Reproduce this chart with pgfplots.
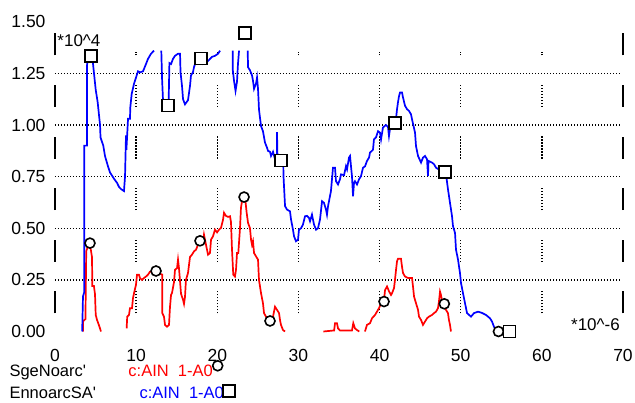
\documentclass[border=0pt]{standalone}
\usepackage{fontspec}
\setmainfont{Liberation Sans}
\usepackage{pgfplots}
\pgfplotsset{compat=1.18}
\begin{document}
\begin{tikzpicture}
\useasboundingbox (-55pt,-71.5pt) rectangle (580pt,331.5pt);
\begin{axis}[
  at={(0,0)}, anchor=south west,
  scale only axis, width=568pt, height=309.75pt,
  xmin=0, xmax=70, ymin=0, ymax=1.5,
  axis line style={draw=none},
  xtick={0,10,20,30,40,50,60,70},
  xticklabels={0,10,20,30,40,50,60,70},
  ytick={0,0.25,0.5,0.75,1,1.25,1.5},
  yticklabels={0.00,0.25,0.50,0.75,1.00,1.25,1.50},
  major tick length=0pt,
  tick label style={font=\fontsize{17.5}{20}\selectfont, text=black},
  yticklabel style={xshift=-6pt},
  xticklabel style={yshift=-14pt},
  clip=false,
  unbounded coords=jump,
]
% horizontal dotted grid
\pgfplotsinvokeforeach{0.25,0.5,0.75,1,1.25}{
  \draw[line width=1.3pt, dash pattern=on 1.3pt off 1.7pt] (axis cs:0,#1) -- (axis cs:69.6,#1);
}
% vertical segmented dotted grid
\pgfplotsinvokeforeach{10,20,30,40,50,60}{
  \draw[line width=1.3pt, dash pattern=on 1.3pt off 1.7pt on 1.3pt off 1.7pt on 1.3pt off 1.7pt on 1.3pt off 1.7pt on 1.3pt off 1.7pt on 1.3pt off 1.7pt on 1.3pt off 1.7pt on 1.3pt off 29.325pt, dash phase=33.625pt] (axis cs:#1,0) -- (axis cs:#1,1.355);
}
% left and right segmented axis lines
\draw[line width=2pt, dash pattern=on 22pt off 29.625pt, dash phase=33.625pt] (axis cs:0,0) -- (axis cs:0,1.5);
\draw[line width=2pt, dash pattern=on 22pt off 29.625pt, dash phase=33.625pt] (axis cs:70,0) -- (axis cs:70,1.5);

% red series
\addplot[red, line width=1.7pt, forget plot] coordinates {
(3.45,0)(3.47,0.05)(3.75,0.06)(3.85,0.39)(4.0,0.405)(4.3,0.42)(4.44,0.39)(4.56,0.36)(4.6,0.22)(4.8,0.22)(4.93,0.18)(5.02,0.08)(5.18,0.056)(5.42,0.03)(5.67,0)(5.67,nan)
(8.83,0.015)(8.9,0.072)(9.12,0.08)(9.24,0.113)(9.49,0.113)(9.61,0.161)(9.74,0.186)(9.98,0.226)(10.11,0.275)(10.35,0.275)(10.47,0.259)(10.72,0.25)(10.97,0.259)(11.21,0.266)(11.46,0.275)(11.71,0.29)(12.45,0.29)(13.22,0.275)(13.22,0.089)(13.43,0.072)(13.56,0.032)(13.8,0.023)(14.05,0.032)(14.17,0.118)(14.3,0.177)(14.42,0.186)(14.67,0.24)(14.79,0.299)(15.04,0.307)(15.16,0.348)(15.28,0.307)(15.53,0.183)(15.78,0.153)(15.9,0.134)(16.02,0.167)(16.14,0.25)(16.39,0.283)(16.64,0.361)(16.88,0.372)(17.13,0.388)(17.38,0.396)(17.62,0.42)(17.87,0.43)(18.24,0.434)(18.36,0.469)(18.61,0.42)(18.86,0.372)(19.1,0.38)(19.23,0.445)(19.47,0.461)(19.72,0.493)(19.97,0.48)(20.21,0.493)(20.46,0.502)(20.71,0.542)(20.83,0.575)(21.07,0.56)(21.32,0.555)(21.57,0.558)(21.69,0.53)(21.81,0.40)(21.97,0.275)(22.18,0.266)(22.31,0.30)(22.43,0.38)(22.59,0.38)(22.8,0.50)(22.92,0.60)(23.17,0.66)(23.4,0.66)(23.62,0.575)(23.79,0.526)(24.03,0.50)(24.16,0.445)(24.28,0.42)(24.4,0.437)(24.53,0.38)(24.77,0.364)(25.02,0.348)(25.14,0.25)(25.39,0.186)(25.63,0.137)(25.76,0.089)(26.0,0.072)(26.5,0.05)(26.87,0.072)(27.11,0.12)(27.36,0.105)(27.61,0.089)(27.73,0.056)(27.85,0.032)(28.1,0.007)(28.35,0)(28.35,nan)
(33.07,0)(34.4,0.005)(34.51,0.04)(34.75,0.04)(34.88,0.015)(35.12,0.005)(36.6,0.005)(36.76,0.04)(36.97,0.015)(37.22,0.007)(37.5,0)(37.5,nan)
(38.2,0)(38.45,0.032)(38.82,0.04)(39.07,0.064)(39.44,0.08)(39.68,0.096)(39.93,0.113)(40.11,0.13)(40.55,0.15)(40.67,0.20)(40.92,0.218)(41.16,0.195)(41.41,0.177)(41.53,0.185)(41.78,0.21)(41.9,0.25)(42.03,0.299)(42.15,0.34)(42.27,0.352)(42.64,0.352)(42.77,0.313)(42.89,0.283)(43.14,0.266)(43.5,0.259)(44.0,0.259)(44.12,0.218)(44.25,0.169)(44.49,0.137)(44.74,0.105)(44.86,0.072)(45.11,0.056)(45.35,0.032)(45.6,0.048)(45.85,0.064)(46.09,0.072)(46.46,0.08)(46.71,0.089)(46.96,0.096)(47.2,0.113)(47.32,0.145)(47.45,0.193)(47.57,0.177)(47.69,0.15)(47.94,0.13)(48.18,0.105)(48.43,0.089)(48.55,0.056)(48.68,0.032)(48.8,0)
};

% blue series
\addplot[blue, line width=1.7pt, forget plot] coordinates {
(3.35,0)(3.45,0.17)(3.6,0.19)(3.6,0.90)(3.95,0.90)(3.95,1.29)(4.1,1.34)(4.6,1.34)(4.7,1.29)(5.02,1.17)(5.26,1.11)(5.55,1.0)(5.61,0.94)(5.95,0.90)(6.16,0.85)(6.53,0.80)(6.78,0.77)(7.27,0.74)(7.64,0.72)(7.89,0.70)(8.13,0.69)(8.5,0.68)(8.63,0.75)(8.75,0.95)(8.8,0.88)(9.0,1.03)(9.24,1.03)(9.28,1.085)(9.45,1.15)(9.74,1.20)(10.23,1.26)(10.48,1.255)(10.85,1.26)(11.21,1.295)(11.46,1.32)(11.83,1.345)(12.2,1.36)(12.2,nan)
(13.1,1.36)(13.2,1.22)(13.3,1.13)(13.6,1.09)(14.0,1.10)(14.1,1.30)(14.3,1.295)(14.54,1.32)(14.79,1.335)(15.16,1.345)(15.41,1.345)(15.47,1.255)(15.65,1.19)(15.78,1.125)(16.02,1.10)(16.39,1.12)(16.64,1.19)(16.76,1.24)(17.0,1.255)(17.13,1.28)(17.38,1.31)(17.62,1.33)(17.9,1.31)(18.24,1.295)(18.61,1.30)(18.86,1.31)(19.35,1.33)(19.72,1.335)(20.09,1.345)(20.34,1.36)(20.34,nan)
(21.9,1.36)(21.9,1.27)(22.06,1.215)(22.25,1.165)(22.43,1.21)(22.55,1.295)(22.68,1.36)(22.68,nan)
(23.75,1.36)(23.79,1.28)(24.03,1.265)(24.28,1.24)(24.4,1.215)(24.53,1.175)(24.77,1.20)(24.9,1.23)(25.02,1.175)(25.14,1.075)(25.39,0.995)(25.63,0.97)(25.88,0.915)(26.13,0.89)(26.25,0.875)(26.5,0.87)(26.62,0.85)(26.87,0.87)(27.11,0.835)(27.36,0.835)(27.36,0.965)(27.42,0.84)(27.9,0.82)(28.14,0.80)(28.16,0.753)(28.35,0.607)(28.6,0.59)(28.96,0.582)(29.09,0.542)(29.33,0.493)(29.46,0.461)(29.7,0.437)(29.95,0.445)(30.07,0.493)(30.32,0.50)(30.56,0.518)(30.81,0.558)(31.06,0.56)(31.3,0.55)(31.43,0.534)(31.67,0.566)(31.92,0.518)(32.17,0.493)(32.41,0.50)(32.66,0.542)(32.91,0.631)(33.15,0.623)(33.4,0.59)(33.52,0.566)(33.65,0.607)(34.01,0.68)(34.26,0.793)(34.51,0.793)(34.63,0.728)(34.88,0.712)(35.12,0.737)(35.25,0.761)(35.62,0.757)(35.86,0.80)(35.99,0.785)(36.23,0.842)(36.36,0.85)(36.48,0.80)(36.6,0.752)(36.73,0.655)(36.85,0.72)(36.97,0.728)(37.22,0.712)(37.47,0.737)(37.71,0.752)(37.96,0.793)(38.21,0.80)(38.45,0.826)(38.7,0.842)(38.82,0.866)(39.19,0.88)(39.31,0.93)(39.56,0.94)(39.81,0.97)(40.05,0.963)(40.18,0.93)(40.42,0.988)(40.79,1.0)(41.04,0.99)(41.16,0.947)(41.28,0.98)(41.53,1.004)(42.0,1.02)(42.15,1.076)(42.27,1.11)(42.4,1.14)(42.52,1.157)(42.77,1.157)(42.89,1.133)(43.14,1.093)(43.38,1.077)(43.63,1.068)(43.87,1.052)(44.0,1.028)(44.37,0.963)(44.49,0.898)(44.74,0.85)(45.11,0.818)(45.35,0.842)(45.6,0.85)(45.85,0.834)(45.97,0.753)(46.03,0.826)(46.46,0.818)(46.71,0.81)(46.96,0.793)(47.5,0.78)(48.1,0.76)(48.27,0.737)(48.43,0.689)(48.68,0.623)(48.93,0.558)(49.05,0.51)(49.3,0.477)(49.42,0.396)(49.67,0.348)(49.91,0.283)(50.04,0.234)(50.28,0.186)(50.53,0.137)(50.78,0.089)(51.27,0.072)(51.64,0.089)(52.13,0.096)(52.62,0.09)(53.12,0.08)(53.61,0.064)(53.86,0.048)(54.1,0.023)(54.47,0.0)(56,0)
};

% circle markers (red series)
\addplot[only marks, mark=*, mark size=5pt, mark options={draw=black, fill=white, line width=1.6pt}] coordinates {
(4.31,0.428)(12.45,0.293)(17.87,0.439)(23.3,0.651)(26.5,0.051)(40.55,0.145)(47.98,0.134)(54.65,0.0)
(20.05,-0.166)
};
% square markers (blue series)
\addplot[only marks, mark=square*, mark size=6pt, mark options={draw=black, fill=white, line width=1.6pt}] coordinates {
(4.40,1.333)(13.93,1.095)(17.99,1.322)(23.42,1.446)(27.85,0.829)(41.9,1.01)(48.07,0.773)(56.0,0.0)
(21.48,-0.289)
};

% annotations
\node[anchor=base west, inner sep=0pt, font=\fontsize{17}{20}\selectfont] at (axis cs:0.28,1.379) {*10\textasciicircum4};
\node[anchor=base east, inner sep=0pt, font=\fontsize{17}{20}\selectfont] at (axis cs:69.63,0.004) {*10\textasciicircum-6};
% legend texts
\node[anchor=base west, inner sep=0pt, font=\fontsize{16.5}{20}\selectfont] at (axis cs:-5.63,-0.219) {SgeNoarc\textquotesingle};
\node[anchor=base west, inner sep=0pt, font=\fontsize{16.5}{20}\selectfont, text=red] at (axis cs:9.03,-0.219) {c:AIN\ \ 1-A0};
\node[anchor=base west, inner sep=0pt, font=\fontsize{16.5}{20}\selectfont] at (axis cs:-5.63,-0.3225) {EnnoarcSA\textquotesingle};
\node[anchor=base west, inner sep=0pt, font=\fontsize{16.5}{20}\selectfont, text=blue] at (axis cs:10.39,-0.3225) {c:AIN\ \ 1-A0};
\end{axis}
\end{tikzpicture}
\end{document}
